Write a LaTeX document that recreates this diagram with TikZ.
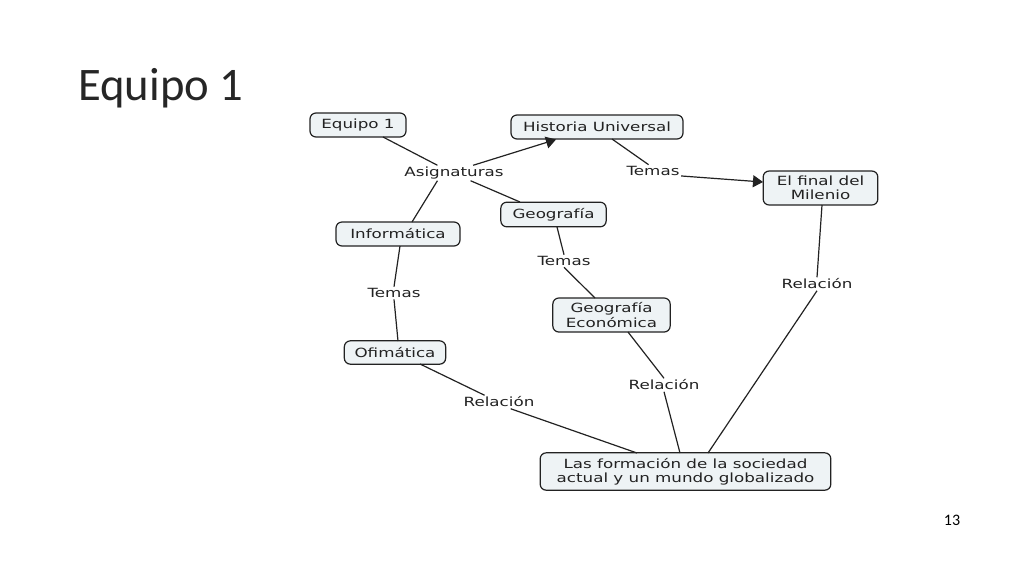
\documentclass[tikz,border=0pt]{standalone}
\usepackage{fontspec}
\setmainfont{DejaVu Sans}
\newfontfamily\mapfont[FakeStretch=1.32]{DejaVu Sans}
\newfontfamily\titlefont{Carlito}
\usetikzlibrary{arrows.meta}
\definecolor{boxfill}{HTML}{EEF3F5}
\definecolor{ink}{HTML}{222222}
\tikzset{
  cbox/.style={draw=ink, line width=0.9pt, fill=boxfill, rounded corners=4.5pt, align=center, inner sep=0pt, font=\mapfont\fontsize{9.5}{10.8}\selectfont, text=ink},
  lbl/.style={inner sep=1pt, font=\mapfont\fontsize{9.5}{10.8}\selectfont, text=ink},
  conn/.style={draw=ink, line width=0.9pt},
  arr/.style={conn, -{Triangle[length=7.5pt,width=9pt]}},
}
\begin{document}
\begin{tikzpicture}[x=0.75pt,y=-0.75pt]
\useasboundingbox (0,0) rectangle (1024,576);
\node[anchor=west, inner sep=0pt, font=\titlefont\fontsize{35}{38}\selectfont, text=black!85] (title) at (78,88) {Equipo 1};
\node[inner sep=0pt, font=\titlefont\fontsize{12}{14}\selectfont] (pnum) at (952,520) {13};

\node[cbox, minimum width=72pt, minimum height=18pt] (equipo) at (358,125) {Equipo 1};
\node[cbox, minimum width=129pt, minimum height=18pt] (historia) at (597,127) {Historia Universal};
\node[cbox, minimum width=86pt, minimum height=25.5pt] (final) at (820.5,188) {El final del\\Milenio};
\node[cbox, minimum width=93pt, minimum height=18pt] (info) at (398,234) {Informática};
\node[cbox, minimum width=79pt, minimum height=18.5pt] (geo) at (553.5,214.5) {Geografía};
\node[cbox, minimum width=88pt, minimum height=25.5pt] (geoeco) at (611.5,315) {Geografía\\Económica};
\node[cbox, minimum width=76pt, minimum height=17.5pt] (ofi) at (395,352.5) {Ofimática};
\node[cbox, minimum width=218pt, minimum height=28pt] (socie) at (685.5,471.5) {Las formación de la sociedad\\actual y un mundo globalizado};

\node[lbl] (asig) at (454,173) {Asignaturas};
\node[lbl] (temas1) at (653,171) {Temas};
\node[lbl] (temas2) at (564,261) {Temas};
\node[lbl] (temas3) at (394,293) {Temas};
\node[lbl] (rel1) at (499,402) {Relación};
\node[lbl] (rel2) at (664,385) {Relación};
\node[lbl] (rel3) at (817,284) {Relación};

\coordinate (eqA) at (383,137);
\coordinate (hiA) at (556,139.5);
\coordinate (inA) at (412,222);
\coordinate (geA) at (520,202);
\coordinate (hiB) at (612,139);
\coordinate (fiA) at (763,182);
\coordinate (geB) at (557,227);
\coordinate (gecA) at (595,298);
\coordinate (inB) at (400,246);
\coordinate (ofA) at (398,341);
\coordinate (ofB) at (420,364);
\coordinate (soA) at (637,453);
\coordinate (gecB) at (628,332);
\coordinate (soB) at (680,453);
\coordinate (fiB) at (822,205);
\coordinate (soC) at (708,453);

\draw[conn] (eqA) -- (asig.155);
\draw[arr] (asig.22) -- (hiA);
\draw[conn] (asig.205) -- (inA);
\draw[conn] (asig.-25) -- (geA);
\draw[conn] (hiB) -- (temas1.125);
\draw[arr] (temas1.-10) -- (fiA);
\draw[conn] (geB) -- (temas2.north);
\draw[conn] (temas2.south) -- (gecA);
\draw[conn] (inB) -- (temas3.north);
\draw[conn] (temas3.south) -- (ofA);
\draw[conn] (ofB) -- (rel1.155);
\draw[conn] (rel1.-30) -- (soA);
\draw[conn] (gecB) -- (rel2.north);
\draw[conn] (rel2.south) -- (soB);
\draw[conn] (fiB) -- (rel3.north);
\draw[conn] (rel3.south) -- (soC);
\end{tikzpicture}
\end{document}
